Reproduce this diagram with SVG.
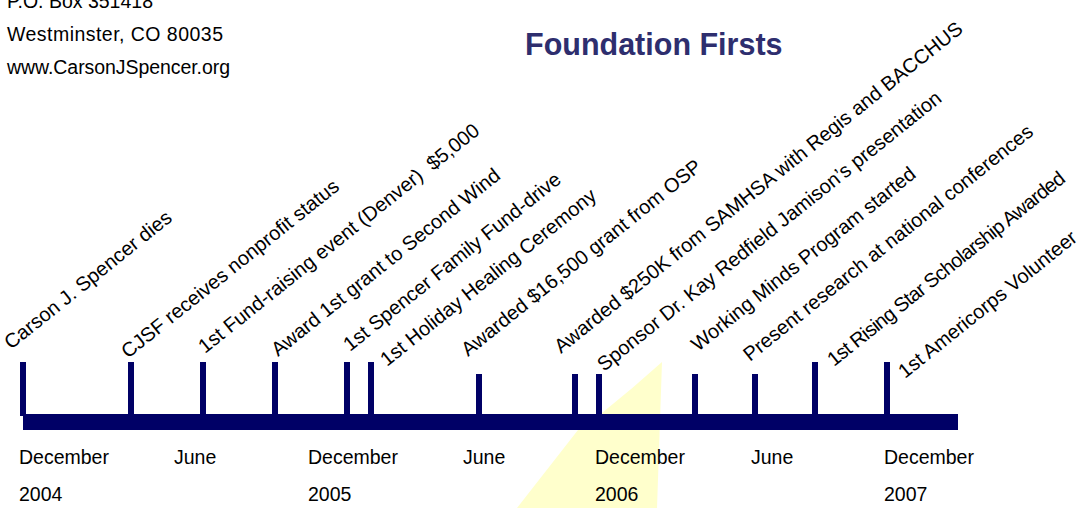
<svg xmlns="http://www.w3.org/2000/svg" width="1081" height="508" viewBox="0 0 1081 508">
  <style>
    text { font-family: "Liberation Sans", Arial, sans-serif; fill: #000000; }
    .addr { font-size: 19.5px; }
    .title { font-size: 30.5px; font-weight: bold; fill: #2E2E6E; }
    .lbl { font-size: 20px; }
    .date { font-size: 19.5px; }
    .tick { fill: #000066; }
    .axis { fill: #000066; }
  </style>
  <rect width="1081" height="508" fill="#FFFFFF"/>
  <g id="highlight">
    <path d="M662,362 L657,508 L517,508 L578,430 L602,413 Q632,389 662,362 Z" fill="#FFFFCC"/>
  </g>
  <g id="address">
    <text class="addr" x="7" y="8">P.O. Box 351418</text>
    <text class="addr" x="7" y="41" textLength="216" lengthAdjust="spacing">Westminster, CO 80035</text>
    <text class="addr" x="7" y="74" textLength="223" lengthAdjust="spacing">www.CarsonJSpencer.org</text>
  </g>
  <g id="title">
    <text class="title" x="525" y="55">Foundation Firsts</text>
  </g>
  <g id="connectors">
    <rect id="timeline-axis" class="axis" x="23" y="414" width="935" height="16"/>
  </g>
  <g id="event-1">
    <rect class="tick" x="20" y="362" width="6" height="54"/>
    <text class="lbl" transform="translate(11,350) rotate(-38.7)">Carson J. Spencer dies</text>
  </g>
  <g id="event-2">
    <rect class="tick" x="128" y="362" width="6" height="52"/>
    <text class="lbl" transform="translate(128,359) rotate(-38.7)">CJSF receives nonprofit status</text>
  </g>
  <g id="event-3">
    <rect class="tick" x="200" y="362" width="6" height="52"/>
    <text class="lbl" xml:space="preserve" transform="translate(205,354) rotate(-38.7)">1st Fund-raising event (Denver)  $5,000</text>
  </g>
  <g id="event-4">
    <rect class="tick" x="272" y="362" width="6" height="52"/>
    <text class="lbl" transform="translate(278,357) rotate(-38.7)">Award 1st grant to Second Wind</text>
  </g>
  <g id="event-5">
    <rect class="tick" x="344" y="362" width="6" height="52"/>
    <text class="lbl" transform="translate(350,352) rotate(-38.7)">1st Spencer Family Fund-drive</text>
  </g>
  <g id="event-6">
    <rect class="tick" x="368" y="362" width="6" height="52"/>
    <text class="lbl" transform="translate(387,367) rotate(-38.7)">1st Holiday Healing Ceremony</text>
  </g>
  <g id="event-7">
    <rect class="tick" x="476" y="374" width="6" height="40"/>
    <text class="lbl" transform="translate(468,357) rotate(-38.7)">Awarded $16,500 grant from OSP</text>
  </g>
  <g id="event-8">
    <rect class="tick" x="572" y="374" width="6" height="40"/>
    <text class="lbl" transform="translate(561,354) rotate(-38.7)">Awarded $250K from SAMHSA with Regis and BACCHUS</text>
  </g>
  <g id="event-9">
    <rect class="tick" x="596" y="374" width="6" height="40"/>
    <text class="lbl" transform="translate(604,372) rotate(-38.7)">Sponsor Dr. Kay Redfield Jamison’s presentation</text>
  </g>
  <g id="event-10">
    <rect class="tick" x="692" y="374" width="6" height="40"/>
    <text class="lbl" transform="translate(698,352) rotate(-38.7)">Working Minds Program started</text>
  </g>
  <g id="event-11">
    <rect class="tick" x="752" y="374" width="6" height="40"/>
    <text class="lbl" transform="translate(750,362) rotate(-38.7)">Present research at national conferences</text>
  </g>
  <g id="event-12">
    <rect class="tick" x="812" y="362" width="6" height="52"/>
    <text class="lbl" transform="translate(834,367) rotate(-38.7)" textLength="298" lengthAdjust="spacing">1st Rising Star Scholarship Awarded</text>
  </g>
  <g id="event-13">
    <rect class="tick" x="884" y="362" width="6" height="52"/>
    <text class="lbl" transform="translate(905,379) rotate(-38.7)">1st Americorps Volunteer</text>
  </g>
  <g id="dates">
    <text class="date" x="19" y="464">December</text>
    <text class="date" x="19" y="501">2004</text>
    <text class="date" x="174" y="464">June</text>
    <text class="date" x="308" y="464">December</text>
    <text class="date" x="308" y="501">2005</text>
    <text class="date" x="463" y="464">June</text>
    <text class="date" x="595" y="464">December</text>
    <text class="date" x="595" y="501">2006</text>
    <text class="date" x="751" y="464">June</text>
    <text class="date" x="884" y="464">December</text>
    <text class="date" x="884" y="501">2007</text>
  </g>
</svg>
